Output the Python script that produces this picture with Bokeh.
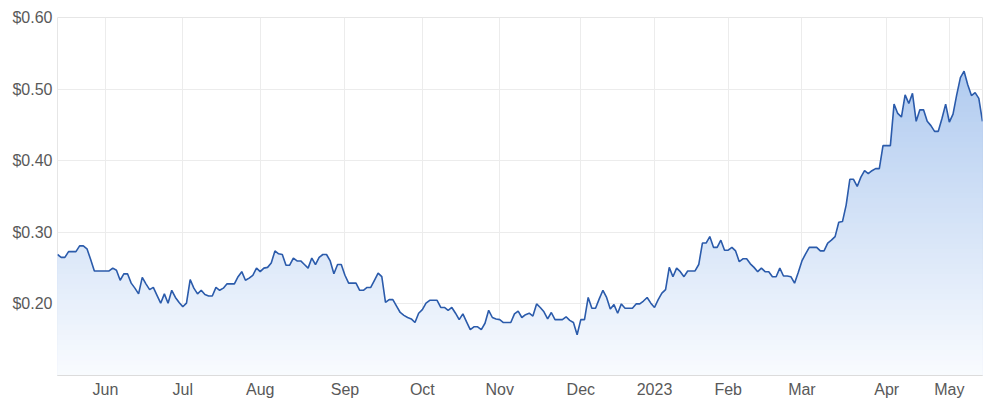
import numpy as np
from bokeh.plotting import figure
from bokeh.models import Range1d, FixedTicker, NumeralTickFormatter
from bokeh.embed import file_html
from bokeh.resources import INLINE

# Daily closing prices (trading days), grouped by month, May 2022 - May 2023
may22 = [0.269, 0.265, 0.265, 0.273, 0.273, 0.273, 0.281, 0.281, 0.277, 0.262,
         0.246, 0.246, 0.246]
jun22 = [0.246, 0.246, 0.250, 0.247, 0.233, 0.242, 0.242, 0.229, 0.222, 0.214,
         0.237, 0.228, 0.220, 0.223, 0.212, 0.201, 0.214, 0.201, 0.219, 0.209, 0.202]
jul22 = [0.196, 0.201, 0.234, 0.222, 0.214, 0.219, 0.213, 0.211, 0.211, 0.223,
         0.219, 0.222, 0.228, 0.228, 0.228, 0.238, 0.245, 0.233, 0.236, 0.240, 0.250]
aug22 = [0.245, 0.250, 0.251, 0.257, 0.274, 0.270, 0.269, 0.254, 0.254, 0.264,
         0.260, 0.260, 0.255, 0.250, 0.264, 0.255, 0.265, 0.269, 0.269, 0.260,
         0.242, 0.255, 0.255]
sep22 = [0.240, 0.229, 0.229, 0.229, 0.219, 0.219, 0.223, 0.223, 0.233, 0.243,
         0.238, 0.202, 0.206, 0.206, 0.197, 0.188, 0.184, 0.181, 0.179, 0.174, 0.187]
oct22 = [0.192, 0.201, 0.205, 0.205, 0.205, 0.195, 0.195, 0.191, 0.195, 0.187,
         0.178, 0.186, 0.175, 0.164, 0.168, 0.168, 0.164, 0.173, 0.191, 0.181, 0.179]
nov22 = [0.178, 0.174, 0.174, 0.174, 0.186, 0.190, 0.181, 0.185, 0.187, 0.183,
         0.200, 0.195, 0.189, 0.179, 0.188, 0.178, 0.178, 0.178, 0.182, 0.177,
         0.174, 0.157]
dec22 = [0.178, 0.178, 0.209, 0.194, 0.194, 0.207, 0.219, 0.209, 0.193, 0.199,
         0.187, 0.200, 0.194, 0.194, 0.194, 0.200, 0.200, 0.204, 0.209, 0.201]
jan23 = [0.195, 0.206, 0.215, 0.220, 0.251, 0.238, 0.250, 0.245, 0.238, 0.246,
         0.246, 0.246, 0.255, 0.285, 0.285, 0.294, 0.279, 0.279, 0.289, 0.275]
feb23 = [0.275, 0.279, 0.274, 0.259, 0.263, 0.263, 0.256, 0.251, 0.245, 0.250,
         0.245, 0.245, 0.238, 0.238, 0.250, 0.239, 0.239, 0.238, 0.229, 0.244]
mar23 = [0.260, 0.270, 0.279, 0.279, 0.279, 0.274, 0.274, 0.285, 0.289, 0.294,
         0.314, 0.315, 0.338, 0.374, 0.374, 0.364, 0.377, 0.386, 0.382, 0.386,
         0.389, 0.389, 0.421]
apr23 = [0.421, 0.421, 0.479, 0.466, 0.461, 0.492, 0.480, 0.494, 0.455, 0.471,
         0.471, 0.455, 0.449, 0.441, 0.441, 0.459, 0.479]
may23 = [0.454, 0.465, 0.492, 0.516, 0.525, 0.506, 0.491, 0.495, 0.487, 0.455]

MONTHS = [may22, jun22, jul22, aug22, sep22, oct22, nov22, dec22,
          jan23, feb23, mar23, apr23, may23]
MONTH_LABELS = ["Jun", "Jul", "Aug", "Sep", "Oct", "Nov", "Dec", "2023",
                "Feb", "Mar", "Apr", "May"]
Y_TICKS = [0.2, 0.3, 0.4, 0.5, 0.6]

price = np.array([v for m in MONTHS for v in m])
x = np.arange(len(price))
month_starts = [int(s) for s in np.cumsum([len(m) for m in MONTHS])[:-1]]

Y_MIN, Y_MAX = 0.1, 0.6

p = figure(width=1000, height=403, output_backend="svg", toolbar_location=None,
           x_range=Range1d(0, len(price) - 1), y_range=Range1d(Y_MIN, Y_MAX),
           min_border_left=57, min_border_top=17, min_border_right=18,
           min_border_bottom=28)

p.background_fill_color = "white"
p.border_fill_color = "white"
p.outline_line_color = "#e6e6e6"

# gradient fill approximated by stacked bands (drawn top colour first)
top_rgb = np.array([178, 204, 240])
bot_rgb = np.array([250, 252, 255])
n_bands = 60
vmax = price.max()
edges = np.linspace(Y_MIN, vmax, n_bands + 1)[1:]
for hi in edges[::-1]:
    t = (hi - Y_MIN) / (vmax - Y_MIN)
    rgb = (bot_rgb + (top_rgb - bot_rgb) * t).astype(int)
    col = "#%02x%02x%02x" % tuple(rgb)
    p.varea(x=x, y1=np.full(len(price), Y_MIN), y2=np.minimum(price, hi),
            fill_color=col, fill_alpha=1.0)

p.line(x, price, line_color="#2b5bab", line_width=1.6)

# axes
p.xaxis.ticker = FixedTicker(ticks=month_starts)
p.xaxis.major_label_overrides = {s: lab for s, lab in zip(month_starts, MONTH_LABELS)}
p.yaxis.ticker = FixedTicker(ticks=Y_TICKS)
p.yaxis.formatter = NumeralTickFormatter(format="$0.00")

for ax in (p.xaxis, p.yaxis):
    ax.major_tick_line_color = None
    ax.minor_tick_line_color = None
    ax.major_tick_out = 0
    ax.major_tick_in = 0
    ax.major_label_text_font = "Liberation Sans"
    ax.major_label_text_font_size = "16px"
    ax.major_label_text_color = "#595959"
p.xaxis.axis_line_color = "#dcdcdc"
p.yaxis.axis_line_color = None
p.xaxis.major_label_standoff = 5
p.yaxis.major_label_standoff = 5

p.xgrid.ticker = FixedTicker(ticks=month_starts)
p.ygrid.ticker = FixedTicker(ticks=Y_TICKS)
p.xgrid.grid_line_color = "#ececec"
p.ygrid.grid_line_color = "#ececec"

open("out.html", "w").write(file_html(p, INLINE))
